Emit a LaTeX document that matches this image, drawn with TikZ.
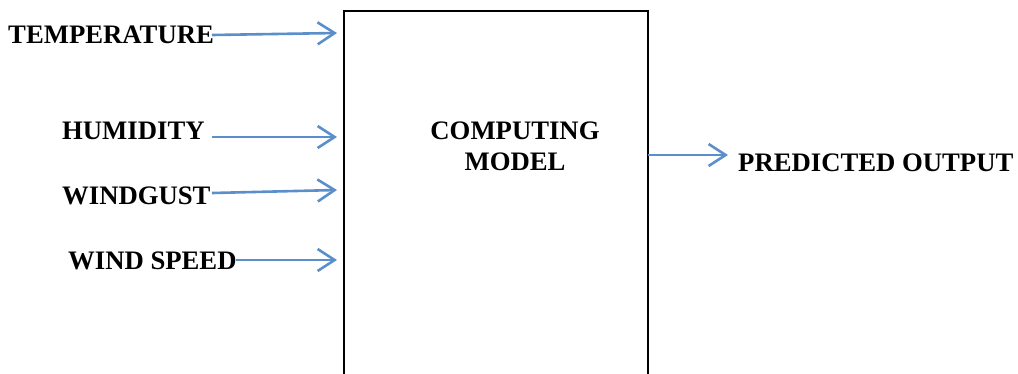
\documentclass[tikz,border=0pt]{standalone}
\usepackage{fontspec}
\setmainfont{Liberation Serif}
\usetikzlibrary{arrows.meta}
\definecolor{flow}{HTML}{5B8FCB}
\begin{document}
\begin{tikzpicture}[x=1pt,y=-1pt,
  lbl/.style={font=\fontsize{26.7}{29}\selectfont\bfseries, inner sep=0pt, anchor=west},
  arr/.style={draw=flow, line width=2.6pt, -{Straight Barb[length=17pt,width=22pt,line width=2.6pt]}}]
  \useasboundingbox (0,0) rectangle (1018,373);
  % central processing block (its lower edge runs off the page)
  \draw[line width=2.4pt] (344,420) -- (344,11) -- (648,11) -- (648,420);
  \node[font=\fontsize{26.7}{31}\selectfont\bfseries, align=center] (model) at (515,146) {COMPUTING\\MODEL};
  % inputs and output
  \node[lbl] (temp) at (8,35) {TEMPERATURE};
  \node[lbl] (hum) at (62,131) {HUMIDITY};
  \node[lbl] (gust) at (62,196) {WINDGUST};
  \node[lbl] (speed) at (68,261) {WIND SPEED};
  \node[lbl] (out) at (738,163) {PREDICTED OUTPUT};
  % connector end points
  \coordinate (tempS) at (212,35);
  \coordinate (tempE) at (337,33);
  \coordinate (humS) at (212,137);
  \coordinate (humE) at (337,137);
  \coordinate (gustS) at (212,193);
  \coordinate (gustE) at (337,190);
  \coordinate (speedS) at (236,260);
  \coordinate (speedE) at (337,260);
  \coordinate (outS) at (648,155);
  \coordinate (outE) at (728,155);
  \draw[arr] (tempS) -- (tempE);
  \draw[arr] (humS) -- (humE);
  \draw[arr] (gustS) -- (gustE);
  \draw[arr] (speedS) -- (speedE);
  \draw[arr] (outS) -- (outE);
\end{tikzpicture}
\end{document}
